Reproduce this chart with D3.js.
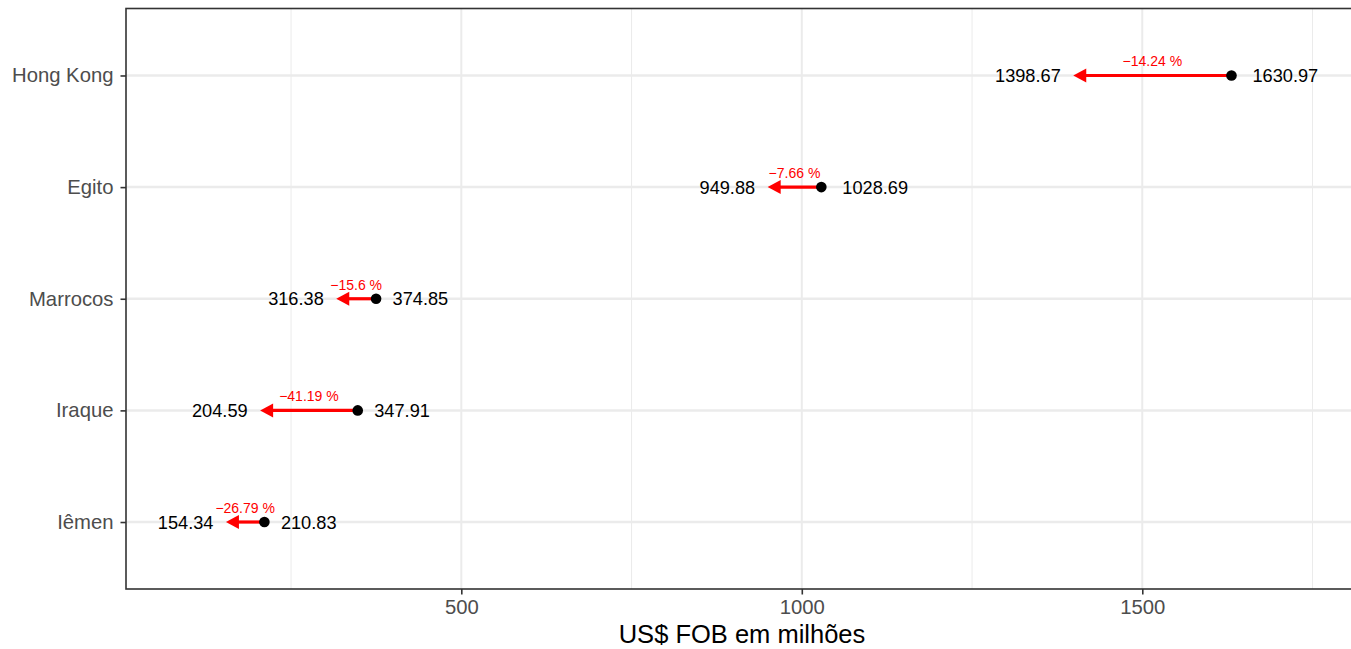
<!DOCTYPE html>
<html>
<head>
<meta charset="utf-8">
<script src="https://cdn.jsdelivr.net/npm/d3@7"></script>
<style>
  body { margin: 0; background: #fff; }
  text { font-family: "Liberation Sans", Arial, sans-serif; }
</style>
</head>
<body>
<script>
// values
const countries = ["Hong Kong", "Egito", "Marrocos", "Iraque", "Iêmen"];
const valStart = [1630.97, 1028.69, 374.85, 347.91, 210.83];
const valEnd = [1398.67, 949.88, 316.38, 204.59, 154.34];
const pctChange = [-14.24, -7.66, -15.6, -41.19, -26.79];
const xMajor = [500, 1000, 1500];
const xMinor = [250, 750, 1250, 1750];

const width = 1351, height = 649;
const panelLeft = 126, panelRight = 1352, panelTop = 8.5, panelBottom = 589;

const svg = d3.select("body")
    .append("svg")
    .attr("width", width)
    .attr("height", height);

const x = d3.scaleLinear()
    .domain([7.6, 1806.5])
    .range([panelLeft, panelRight - 1]);

const y = d3.scalePoint()
    .domain(countries)
    .range([panelTop, panelBottom])
    .padding(0.6);

const rows = countries.map((c, i) => ({
    country: c, start: valStart[i], end: valEnd[i], pct: pctChange[i]
}));

// grid
svg.append("g").selectAll("line")
    .data(xMinor)
    .enter().append("line")
    .attr("x1", d => x(d)).attr("x2", d => x(d))
    .attr("y1", panelTop).attr("y2", panelBottom)
    .attr("stroke", "#EBEBEB").attr("stroke-width", 1);

svg.append("g").selectAll("line")
    .data(xMajor)
    .enter().append("line")
    .attr("x1", d => x(d)).attr("x2", d => x(d))
    .attr("y1", panelTop).attr("y2", panelBottom)
    .attr("stroke", "#EBEBEB").attr("stroke-width", 2);

svg.append("g").selectAll("line")
    .data(countries)
    .enter().append("line")
    .attr("x1", panelLeft).attr("x2", panelRight)
    .attr("y1", d => y(d)).attr("y2", d => y(d))
    .attr("stroke", "#EBEBEB").attr("stroke-width", 2.5);

// arrows
const headLen = 13, headHalf = 7;
const g = svg.append("g");

g.selectAll("line.arrow")
    .data(rows)
    .enter().append("line")
    .attr("class", "arrow")
    .attr("x1", d => x(d.start))
    .attr("x2", d => x(d.end) + headLen - 1)
    .attr("y1", d => y(d.country))
    .attr("y2", d => y(d.country))
    .attr("stroke", "#FF0000")
    .attr("stroke-width", 3.2);

g.selectAll("path.head")
    .data(rows)
    .enter().append("path")
    .attr("class", "head")
    .attr("d", d => {
        const tx = x(d.end), ty = y(d.country);
        return `M${tx},${ty}L${tx + headLen},${ty - headHalf}L${tx + headLen},${ty + headHalf}Z`;
    })
    .attr("fill", "#FF0000");

g.selectAll("circle")
    .data(rows)
    .enter().append("circle")
    .attr("cx", d => x(d.start))
    .attr("cy", d => y(d.country))
    .attr("r", 5.3)
    .attr("fill", "#000");

// value labels
g.selectAll("text.endlab")
    .data(rows)
    .enter().append("text")
    .attr("class", "endlab")
    .attr("x", d => x(d.end) - 12.5)
    .attr("y", d => y(d.country) + 6.6)
    .attr("text-anchor", "end")
    .attr("font-size", "18.2px")
    .attr("fill", "#000")
    .text(d => d.end.toFixed(2));

g.selectAll("text.startlab")
    .data(rows)
    .enter().append("text")
    .attr("class", "startlab")
    .attr("x", d => {
        const s = d.start.toFixed(2);
        return x(d.start) + 16.5 + 4.5 * (s.length - 6);
    })
    .attr("y", d => y(d.country) + 6.6)
    .attr("text-anchor", "start")
    .attr("font-size", "18.2px")
    .attr("fill", "#000")
    .text(d => d.start.toFixed(2));

g.selectAll("text.pct")
    .data(rows)
    .enter().append("text")
    .attr("class", "pct")
    .attr("x", d => (x(d.start) + x(d.end)) / 2)
    .attr("y", d => y(d.country) - 9)
    .attr("text-anchor", "middle")
    .attr("font-size", "14px")
    .attr("fill", "#FF0000")
    .text(d => "\u2212" + Math.abs(d.pct) + " %");

// panel border
svg.append("rect")
    .attr("x", panelLeft).attr("y", panelTop)
    .attr("width", panelRight - panelLeft).attr("height", panelBottom - panelTop)
    .attr("fill", "none")
    .attr("stroke", "#333333")
    .attr("stroke-width", 1.6);

// axes
const xAxis = svg.append("g")
    .attr("transform", `translate(0, ${panelBottom})`)
    .call(d3.axisBottom(x).tickValues(xMajor).tickFormat(d3.format("d"))
        .tickSize(5.5).tickPadding(5));
xAxis.select(".domain").remove();
xAxis.selectAll(".tick line").attr("stroke", "#333333").attr("stroke-width", 1.6);
xAxis.selectAll(".tick text")
    .attr("fill", "#4D4D4D")
    .style("font-size", "20.3px")
    .style("font-family", "'Liberation Sans', Arial, sans-serif");

const yAxis = svg.append("g")
    .attr("transform", `translate(${panelLeft}, 0)`)
    .call(d3.axisLeft(y).tickSize(5.5).tickPadding(7));
yAxis.select(".domain").remove();
yAxis.selectAll(".tick line").attr("stroke", "#333333").attr("stroke-width", 1.6);
yAxis.selectAll(".tick text")
    .attr("fill", "#4D4D4D")
    .style("font-size", "20.3px")
    .style("font-family", "'Liberation Sans', Arial, sans-serif");

// axis title
svg.append("text")
    .attr("x", (panelLeft + panelRight) / 2 + 3)
    .attr("y", 643)
    .attr("text-anchor", "middle")
    .attr("font-size", "25.5px")
    .attr("fill", "#000")
    .text("US$ FOB em milhões");
</script>
</body>
</html>
